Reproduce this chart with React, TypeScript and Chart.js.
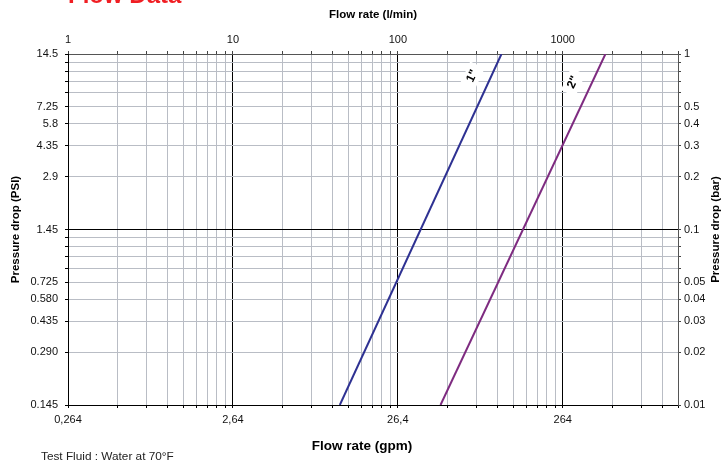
import { useEffect, useRef } from 'react';
import { Chart, registerables } from 'chart.js';

Chart.register(...registerables);

// ---- data ----
const flowMinLpm = 1;
const flowMaxLpm = 5000;
const pressureMinBar = 0.01;
const pressureMaxBar = 1;

const flowTicksLpm = [1, 10, 100, 1000];
const flowLabelsLpm = ['1', '10', '100', '1000'];
const flowLabelsGpm = ['0,264', '2,64', '26,4', '264'];

const pressureTicksBar = [0.01, 0.02, 0.03, 0.04, 0.05, 0.1, 0.2, 0.3, 0.4, 0.5, 1];
const pressureLabelsBar = ['0.01', '0.02', '0.03', '0.04', '0.05', '0.1', '0.2', '0.3', '0.4', '0.5', '1'];
const pressureLabelsPsi = ['0.145', '0.290', '0.435', '0.580', '0.725', '1.45', '2.9', '4.35', '5.8', '7.25', '14.5'];

const seriesNames = ['1"', '2"'];
const flow1Inch = [44.5, 425];
const pressure1Inch = [0.01, 1];
const flow2Inch = [181.5, 1815];
const pressure2Inch = [0.01, 1];
const labelPressure = [0.75, 0.69];

const seriesColors = ['#2E3192', '#7E2B80'];

const FONT = '"Liberation Sans", Arial, sans-serif';
const GRID_MINOR = '#B9BDC5';

function decadeGrid(min: number, max: number): number[] {
  const out: number[] = [];
  for (let e = Math.floor(Math.log10(min)); e <= Math.ceil(Math.log10(max)); e++) {
    for (let m = 1; m <= 9; m++) {
      const v = Number((m * Math.pow(10, e)).toPrecision(6));
      if (v >= min - 1e-12 && v <= max + 1e-12) out.push(v);
    }
  }
  return out;
}

const near = (a: number, b: number) => Math.abs(a - b) < 1e-9 * Math.max(1, Math.abs(b));
const isDecade = (v: number) => near(Math.log10(v), Math.round(Math.log10(v)));

function lookup(v: number, ticks: number[], labels: string[]): string {
  const i = ticks.findIndex((t) => near(v, t));
  return i >= 0 ? labels[i] : '';
}

const series = [
  { name: seriesNames[0], flow: flow1Inch, pressure: pressure1Inch, color: seriesColors[0], lp: labelPressure[0] },
  { name: seriesNames[1], flow: flow2Inch, pressure: pressure2Inch, color: seriesColors[1], lp: labelPressure[1] },
];

const annotations = {
  id: 'annotations',
  afterDatasetsDraw(chart: any) {
    const { ctx } = chart;
    const xs = chart.scales.x;
    const ys = chart.scales.y;
    series.forEach((s) => {
      const lp0 = Math.log10(s.pressure[0]);
      const lp1 = Math.log10(s.pressure[1]);
      const t = (Math.log10(s.lp) - lp0) / (lp1 - lp0);
      const lf = Math.log10(s.flow[0]) + t * (Math.log10(s.flow[1]) - Math.log10(s.flow[0]));
      const px = xs.getPixelForValue(Math.pow(10, lf)) - 19;
      const py = ys.getPixelForValue(s.lp);
      ctx.save();
      ctx.translate(px, py);
      ctx.rotate((-65 * Math.PI) / 180);
      ctx.font = `bold 12px ${FONT}`;
      const w = ctx.measureText(s.name).width;
      ctx.fillStyle = '#ffffff';
      ctx.fillRect(-w / 2 - 6, -8, w + 12, 16);
      ctx.fillStyle = '#000000';
      ctx.textAlign = 'center';
      ctx.textBaseline = 'middle';
      ctx.fillText(s.name, 0, 0);
      ctx.restore();
    });
  },
  afterDraw(chart: any) {
    const { ctx, chartArea } = chart;
    ctx.save();
    ctx.fillStyle = '#F01E23';
    ctx.font = `bold 24px ${FONT}`;
    ctx.textAlign = 'left';
    ctx.textBaseline = 'alphabetic';
    ctx.fillText('Flow Data', 68, 3);

    ctx.fillStyle = '#000000';
    ctx.font = `bold 13.5px ${FONT}`;
    ctx.textAlign = 'center';
    ctx.fillText('Flow rate (gpm)', 362, 449.5);

    ctx.save();
    ctx.translate(716, (chartArea.top + chartArea.bottom) / 2);
    ctx.rotate(-Math.PI / 2);
    ctx.font = `bold 11.5px ${FONT}`;
    ctx.textAlign = 'center';
    ctx.textBaseline = 'middle';
    ctx.fillText('Pressure drop (bar)', 0, 0);
    ctx.restore();

    ctx.fillStyle = '#222222';
    ctx.font = `11.8px ${FONT}`;
    ctx.textAlign = 'left';
    ctx.textBaseline = 'alphabetic';
    ctx.fillText('Test Fluid : Water at 70°F', 41, 460);
    ctx.restore();
  },
};

export default function App() {
  const ref = useRef<HTMLCanvasElement | null>(null);

  useEffect(() => {
    if (!ref.current) return;
    const xGrid = decadeGrid(flowMinLpm, flowMaxLpm);
    const yGrid = decadeGrid(pressureMinBar, pressureMaxBar);

    const gridColorX = (c: any) => {
      const v = c.tick ? c.tick.value : 0;
      return v && isDecade(v) ? '#000000' : GRID_MINOR;
    };
    const gridColorY = (c: any) => {
      const v = c.tick ? c.tick.value : 0;
      if (v && near(v, pressureMaxBar)) return '#555555';
      return v && isDecade(v) ? '#000000' : GRID_MINOR;
    };

    const tickFont = { family: FONT, size: 11 };

    const chart = new Chart(ref.current, {
      type: 'scatter',
      data: {
        datasets: series.map((s) => ({
          label: s.name,
          data: s.flow.map((f, i) => ({ x: f, y: s.pressure[i] })),
          showLine: true,
          borderColor: s.color,
          backgroundColor: s.color,
          borderWidth: 2,
          pointRadius: 0,
          fill: false,
          xAxisID: 'x',
          yAxisID: 'y',
        })),
      },
      options: {
        animation: false,
        responsive: false,
        devicePixelRatio: 1,
        layout: { padding: 0 },
        plugins: {
          legend: { display: false },
          tooltip: { enabled: false },
          title: { display: false },
        },
        scales: {
          x: {
            type: 'logarithmic',
            position: 'bottom',
            min: flowMinLpm,
            max: flowMaxLpm,
            afterBuildTicks: (s: any) => {
              s.ticks = xGrid.map((v) => ({ value: v }));
            },
            afterFit: (s: any) => {
              s.height = 59;
            },
            ticks: {
              autoSkip: false,
              maxRotation: 0,
              padding: 5,
              color: '#111',
              font: tickFont,
              callback: (v: any) => lookup(Number(v), flowTicksLpm, flowLabelsGpm),
            },
            grid: { drawOnChartArea: false, drawTicks: true, tickLength: 3, tickColor: '#000' },
            border: { color: '#000', width: 1 },
          },
          x2: {
            type: 'logarithmic',
            position: 'top',
            min: flowMinLpm,
            max: flowMaxLpm,
            afterBuildTicks: (s: any) => {
              s.ticks = xGrid.map((v) => ({ value: v }));
            },
            afterFit: (s: any) => {
              s.height = 54;
            },
            ticks: {
              autoSkip: false,
              maxRotation: 0,
              padding: 4,
              color: '#111',
              font: tickFont,
              callback: (v: any) => lookup(Number(v), flowTicksLpm, flowLabelsLpm),
            },
            grid: { drawOnChartArea: true, color: gridColorX, lineWidth: 1, drawTicks: true, tickLength: 3, tickColor: '#444' },
            border: { color: '#555', width: 1 },
            title: {
              display: true,
              text: 'Flow rate (l/min)',
              color: '#000',
              font: { family: FONT, size: 11.5, weight: 'bold' },
              padding: { top: 7.5, bottom: 0 },
            },
          },
          y: {
            type: 'logarithmic',
            position: 'left',
            min: pressureMinBar,
            max: pressureMaxBar,
            afterBuildTicks: (s: any) => {
              s.ticks = yGrid.map((v) => ({ value: v }));
            },
            afterFit: (s: any) => {
              s.width = 68;
            },
            ticks: {
              autoSkip: false,
              padding: 7,
              color: '#111',
              font: tickFont,
              callback: (v: any) => lookup(Number(v), pressureTicksBar, pressureLabelsPsi),
            },
            grid: { drawOnChartArea: true, color: gridColorY, lineWidth: 1, drawTicks: true, tickLength: 3, tickColor: '#000' },
            border: { color: '#000', width: 1 },
            title: {
              display: true,
              text: 'Pressure drop (PSI)',
              color: '#000',
              font: { family: FONT, size: 11.5, weight: 'bold' },
              padding: { top: 8.5, bottom: 0 },
            },
          },
          y2: {
            type: 'logarithmic',
            position: 'right',
            min: pressureMinBar,
            max: pressureMaxBar,
            afterBuildTicks: (s: any) => {
              s.ticks = yGrid.map((v) => ({ value: v }));
            },
            afterFit: (s: any) => {
              s.width = 47;
            },
            ticks: {
              autoSkip: false,
              padding: 3,
              color: '#111',
              font: tickFont,
              callback: (v: any) => lookup(Number(v), pressureTicksBar, pressureLabelsBar),
            },
            grid: { drawOnChartArea: false, drawTicks: true, tickLength: 3, tickColor: '#444' },
            border: { color: '#555', width: 1 },
          },
        },
      } as any,
      plugins: [annotations],
    });
    return () => chart.destroy();
  }, []);

  return (
    <div style={{ position: 'fixed', left: 0, top: 0, width: 725, height: 464, background: '#fff' }}>
      <canvas ref={ref} width={725} height={464} style={{ display: 'block' }} />
    </div>
  );
}
